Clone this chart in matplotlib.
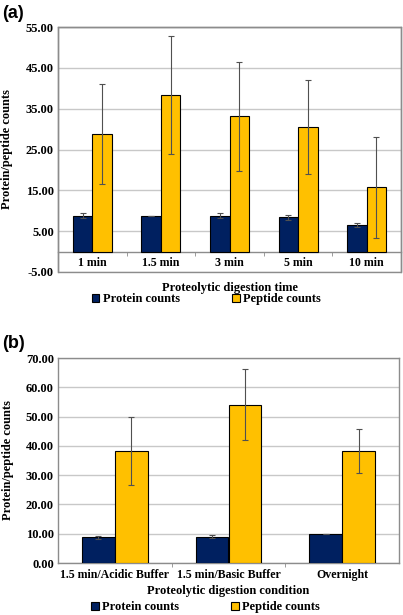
import numpy as np
import matplotlib
matplotlib.use('Agg')
import matplotlib.pyplot as plt
from matplotlib.patches import Patch, Rectangle
from matplotlib.ticker import FormatStrFormatter, FixedLocator

# data panel (a)
times = ['1 min', '1.5 min', '3 min', '5 min', '10 min']
protein_a = [8.8, 8.8, 8.8, 8.4, 6.6]
protein_a_err = [0.6, 0.0, 0.6, 0.6, 0.5]
peptide_a = [28.8, 38.4, 33.1, 30.4, 15.7]
peptide_a_err = [12.3, 14.5, 13.4, 11.5, 12.3]

# data panel (b)
conditions = ['1.5 min/Acidic Buffer', '1.5 min/Basic Buffer', 'Overnight']
protein_b = [8.8, 9.0, 10.0]
protein_b_err = [0.5, 0.5, 0.0]
peptide_b = [38.3, 54.1, 38.3]
peptide_b_err = [11.6, 12.0, 7.6]

NAVY = '#002060'
GOLD = '#FFC000'
FRAME = '#8c8c8c'
GRID = '#c8c8c8'

plt.rcParams['font.family'] = 'Liberation Serif'
plt.rcParams['font.weight'] = 'bold'
plt.rcParams['axes.labelweight'] = 'bold'
plt.rcParams['font.size'] = 9

W, H = 403, 615
fig = plt.figure(figsize=(W / 100, H / 100), dpi=100)


def px_axes(left, top, right, bottom):
    return fig.add_axes([left / W, 1 - bottom / H, (right - left) / W, (bottom - top) / H])


def draw_panel(ax, cats, prot, prot_err, pep, pep_err, ymin, ymax, xlabel, width):
    x = np.arange(len(cats))
    ekw = dict(ecolor='#505050', elinewidth=0.8, capsize=2, capthick=0.8)
    ax.bar(x - width / 2, prot, width, color=NAVY, edgecolor='black', linewidth=0.8,
           yerr=prot_err, error_kw=ekw, zorder=3, label='Protein counts')
    ax.bar(x + width / 2, pep, width, color=GOLD, edgecolor='black', linewidth=0.8,
           yerr=pep_err, error_kw=ekw, zorder=3, label='Peptide counts')
    ax.set_xlim(-0.5, len(cats) - 0.5)
    ax.set_ylim(ymin, ymax)
    ax.set_yticks(np.arange(ymin, ymax + 1, 10))
    ax.yaxis.set_major_formatter(FormatStrFormatter('%.2f'))
    ax.grid(axis='y', color=GRID, linewidth=1, zorder=0)
    ax.set_axisbelow(True)
    for s in ax.spines.values():
        s.set_color(FRAME)
        s.set_linewidth(1)
    ax.set_xticks(x)
    ax.set_xticklabels(cats)
    ax.xaxis.set_minor_locator(FixedLocator(np.arange(0.5, len(cats) - 0.5, 1)))
    ax.tick_params(axis='x', which='major', length=0, pad=4, labelsize=8.6)
    ax.tick_params(axis='x', which='minor', length=3, color=FRAME, direction='out')
    ax.tick_params(axis='y', length=0, pad=3, labelsize=9)
    ax.set_xlabel(xlabel, fontsize=9, labelpad=3)
    ax.set_ylabel('Protein/peptide counts', fontsize=9)
    ax.yaxis.set_label_coords(-0.13, 0.5)
    handles = [Patch(facecolor=NAVY, edgecolor='black', linewidth=0.8, label='Protein counts'),
               Patch(facecolor=GOLD, edgecolor='black', linewidth=0.8, label='Peptide counts')]
    return handles


# panel (a)
ax1 = px_axes(58, 27, 401, 272)
h = draw_panel(ax1, times, protein_a, protein_a_err, peptide_a, peptide_a_err,
               -5, 55, 'Proteolytic digestion time', 0.285)
ax1.spines['bottom'].set_position(('data', 0))
ax1.add_patch(Rectangle((0, 0), 1, 1, transform=ax1.transAxes, fill=False,
                        edgecolor=FRAME, linewidth=1, clip_on=False, zorder=5))
ax1.xaxis.set_label_coords(0.5, -0.04)
ax1.legend(handles=h, loc='center', bbox_to_anchor=(0.433, -0.11), ncol=2, frameon=False,
           fontsize=9, handlelength=0.6, handleheight=0.6, handletextpad=0.3,
           columnspacing=4.15)
fig.text(2 / W, 1 - 13 / H, '(a)', fontfamily='Liberation Sans', fontweight='bold',
         fontsize=13, va='center', ha='left')

# panel (b)
ax2 = px_axes(58, 358, 399, 563)
h = draw_panel(ax2, conditions, protein_b, protein_b_err, peptide_b, peptide_b_err,
               0, 70, 'Proteolytic digestion condition', 0.29)
ax2.legend(handles=h, loc='center', bbox_to_anchor=(0.433, -0.215), ncol=2, frameon=False,
           fontsize=9, handlelength=0.6, handleheight=0.6, handletextpad=0.3,
           columnspacing=4.15)
fig.text(2 / W, 1 - 343 / H, '(b)', fontfamily='Liberation Sans', fontweight='bold',
         fontsize=13, va='center', ha='left')

fig.savefig('out.png', dpi=100)
